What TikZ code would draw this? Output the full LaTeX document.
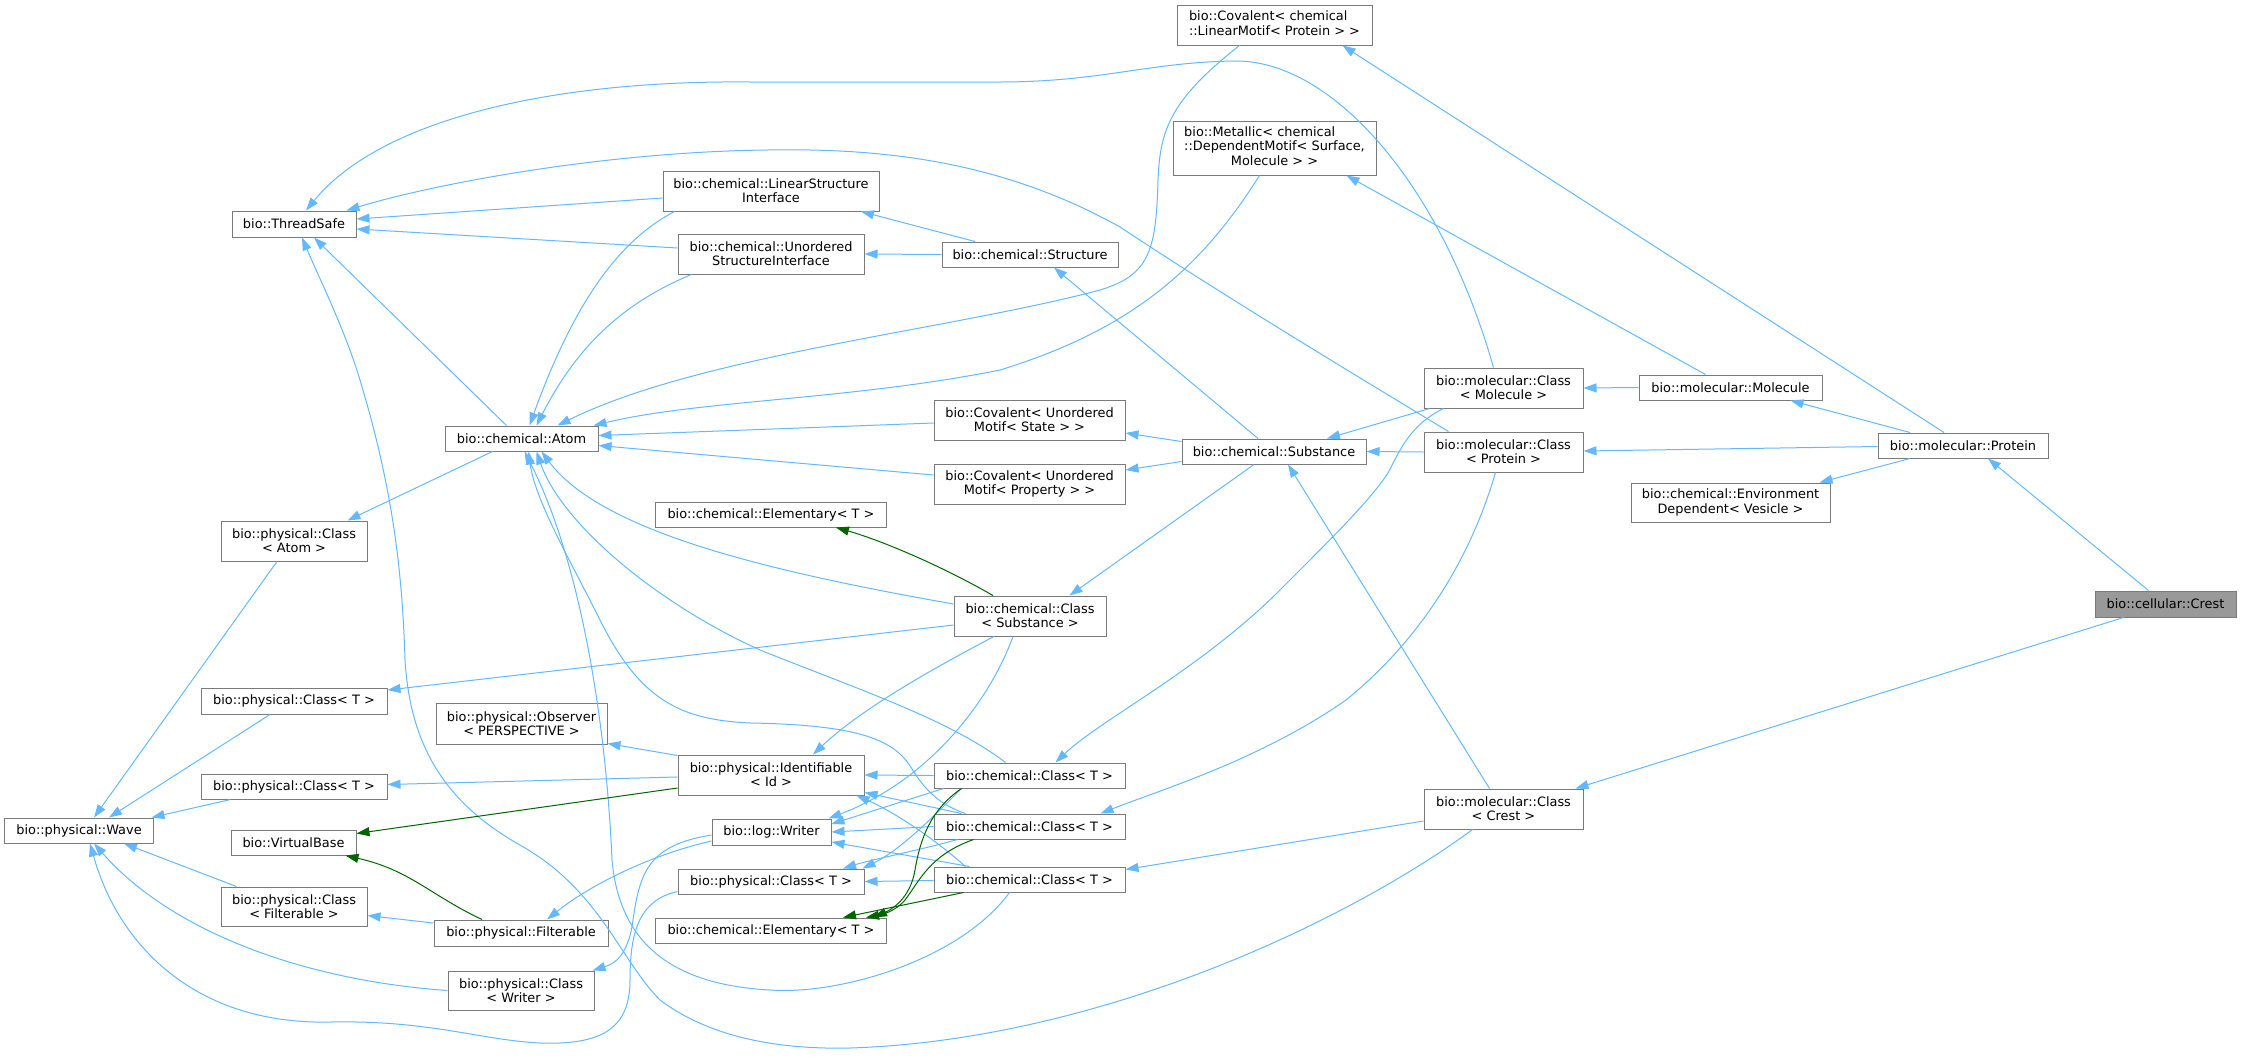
\documentclass[tikz,border=0pt]{standalone}
\usepackage{fontspec}
\setmainfont{DejaVu Sans}
\usetikzlibrary{arrows.meta}
\definecolor{edgeblue}{HTML}{63B8FF}
\definecolor{edgegreen}{HTML}{006400}
\definecolor{nodeborder}{HTML}{7A7A7A}
\definecolor{curfill}{HTML}{999999}
\tikzset{
  box/.style={draw=nodeborder,line width=1bp,fill=white,inner sep=0pt,align=center,font=\fontsize{12.9bp}{14.3bp}\selectfont},
  cur/.style={box,fill=curfill},
  inh/.style={draw=edgeblue,line width=1bp,-{Triangle[length=13bp,width=9bp]}},
  grn/.style={draw=edgegreen,line width=1bp,-{Triangle[length=13bp,width=9bp]}},
  wh/.style 2 args={minimum width=#1bp,minimum height=#2bp}}
\begin{document}
\begin{tikzpicture}[x=1bp,y=-1bp]
\useasboundingbox (0,0) rectangle (2241,1056);
% nodes
\node[box,wh={124}{26}] (ts) at (294,224) {bio::ThreadSafe};
\node[box,wh={216}{40}] (lsi) at (771,191) {bio::chemical::LinearStructure\\Interface};
\node[box,wh={186}{40}] (usi) at (771,254) {bio::chemical::Unordered\\StructureInterface};
\node[box,wh={176}{25}] (struct) at (1030,254.5) {bio::chemical::Structure};
\node[box,wh={195}{40}] (covlm) at (1274.5,25) {\begin{tabular}{@{}l@{}}bio::Covalent< chemical\\::LinearMotif< Protein > >\end{tabular}};
\node[box,wh={203}{54}] (met) at (1274.5,148) {\begin{tabular}{@{}l@{}}bio::Metallic< chemical\\::DependentMotif< Surface,\\\multicolumn{1}{@{}c@{}}{Molecule > >}\end{tabular}};
\node[box,wh={153}{25}] (atom) at (521.5,438.5) {bio::chemical::Atom};
\node[box,wh={146}{40}] (clatom) at (294,541) {bio::physical::Class\\< Atom >};
\node[box,wh={186}{26}] (pc1) at (294,701) {bio::physical::Class< T >};
\node[box,wh={186}{25}] (pc2) at (294,786.5) {bio::physical::Class< T >};
\node[box,wh={148}{25}] (wave) at (79,830.5) {bio::physical::Wave};
\node[box,wh={125}{25}] (vb) at (293.5,842.5) {bio::VirtualBase};
\node[box,wh={146}{39}] (clfilt) at (294,906.5) {bio::physical::Class\\< Filterable >};
\node[box,wh={171}{41}] (obs) at (521.5,723.5) {bio::physical::Observer\\< PERSPECTIVE >};
\node[box,wh={174}{26}] (filt) at (521,933) {bio::physical::Filterable};
\node[box,wh={146}{39}] (clwriter) at (521,990.5) {bio::physical::Class\\< Writer >};
\node[box,wh={186}{40}] (ident) at (771,775) {bio::physical::Identifiable\\< Id >};
\node[box,wh={119}{26}] (writer) at (771.5,832) {bio::log::Writer};
\node[box,wh={186}{25}] (pc3) at (771,881.5) {bio::physical::Class< T >};
\node[box,wh={231}{25}] (elem2) at (771,930.5) {bio::chemical::Elementary< T >};
\node[box,wh={191}{25}] (cc1) at (1029.5,775.5) {bio::chemical::Class< T >};
\node[box,wh={191}{25}] (cc2) at (1029.5,826.5) {bio::chemical::Class< T >};
\node[box,wh={191}{25}] (cc3) at (1029.5,879.5) {bio::chemical::Class< T >};
\node[box,wh={191}{40}] (covst) at (1029.5,420) {bio::Covalent< Unordered\\Motif< State > >};
\node[box,wh={191}{40}] (covpr) at (1029.5,484) {bio::Covalent< Unordered\\Motif< Property > >};
\node[box,wh={231}{25}] (elem1) at (771,514.5) {bio::chemical::Elementary< T >};
\node[box,wh={152}{40}] (csub) at (1030,616) {bio::chemical::Class\\< Substance >};
\node[box,wh={184}{25}] (subst) at (1274,451.5) {bio::chemical::Substance};
\node[box,wh={159}{40}] (mcmol) at (1503.5,388) {bio::molecular::Class\\< Molecule >};
\node[box,wh={159}{40}] (mcprot) at (1503.5,452) {bio::molecular::Class\\< Protein >};
\node[box,wh={183}{25}] (mol) at (1730.5,387.5) {bio::molecular::Molecule};
\node[box,wh={199}{39}] (envdep) at (1730.5,502.5) {bio::chemical::Environment\\Dependent< Vesicle >};
\node[box,wh={170}{25}] (prot) at (1963,445.5) {bio::molecular::Protein};
\node[cur,wh={141}{26}] (crest) at (2165.5,604) {bio::cellular::Crest};
\node[box,wh={159}{40}] (mccrest) at (1503.5,809) {bio::molecular::Class\\< Crest >};
% edges
\draw[inh] ([xshift=-10bp]mcmol.north) .. controls (1440,180) and (1330,60) .. (1235,61) .. controls (1150,62) and (1100,82) .. (1000,82) -- (750,82) .. controls (550,80) and (380,120) .. ([xshift=12bp]ts.north);
\draw[inh] ([xshift=-55bp]mcprot.north) .. controls (1380,390) and (1230,300) .. (1120,227) .. controls (1000,160) and (880,148) .. (767,150) .. controls (600,152) and (430,185) .. ([xshift=-10bp]ts.north east);
\draw[inh] ([yshift=-7bp]lsi.west) -- ([yshift=5bp]ts.east);
\draw[inh] ([yshift=6bp]usi.west) -- ([yshift=-5bp]ts.east);
\draw[inh] ([xshift=-15bp]atom.north) -- ([xshift=20bp]ts.south);
\draw[inh] ([xshift=-31bp]mccrest.south) .. controls (1350,920) and (1100,1040) .. (850,1048) .. controls (760,1050) and (700,1030) .. (660,1000) .. controls (620,960) and (600,890) .. (520,845) .. controls (440,800) and (410,740) .. (405,660) .. controls (402,560) and (390,480) .. (360,380) .. controls (345,330) and (320,280) .. ([xshift=8bp]ts.south);
\draw[inh] ([xshift=12bp]lsi.south west) .. controls (620,240) and (575,300) .. ([xshift=8bp]atom.north);
\draw[inh] ([xshift=14bp]usi.south west) .. controls (630,300) and (580,340) .. ([xshift=15bp]atom.north);
\draw[inh] ([xshift=-35bp]covlm.south) .. controls (1170,100) and (1160,130) .. (1158,180) .. controls (1156,250) and (1150,275) .. (1100,290) .. controls (950,330) and (700,355) .. ([xshift=36bp]atom.north);
\draw[inh] ([xshift=-15bp]met.south) .. controls (1200,270) and (1130,330) .. (1000,370) .. controls (850,400) and (700,400) .. ([xshift=-5bp]atom.north east);
\draw[inh] ([yshift=-3bp]covst.west) -- ([yshift=3bp]atom.east);
\draw[inh] ([yshift=9bp]covpr.west) -- ([yshift=-7bp]atom.east);
\draw[inh] ([yshift=12bp]csub.west) .. controls (760,570) and (600,530) .. ([xshift=20bp]atom.south);
\draw[inh] ([xshift=-24bp]cc1.north) .. controls (950,720) and (860,690) .. (760,650) .. controls (650,600) and (560,520) .. ([xshift=15bp]atom.south);
\draw[inh] ([xshift=-64bp]cc2.north) .. controls (940,805) and (925,790) .. (912,769) .. controls (895,740) and (860,725) .. (751,723) .. controls (680,720) and (640,700) .. (600,620) .. controls (570,560) and (535,500) .. ([xshift=7bp]atom.south);
\draw[inh] ([xshift=-20bp]cc3.south) .. controls (960,960) and (840,995) .. (770,990) .. controls (680,985) and (620,950) .. (612,860) .. controls (606,720) and (580,560) .. ([xshift=3bp]atom.south);
\draw[inh] ([xshift=-29bp]atom.south) -- ([xshift=-20bp]clatom.north east);
\draw[inh] ([xshift=-17bp]clatom.south) -- ([xshift=15bp]wave.north);
\draw[inh] ([xshift=-24bp]pc1.south) -- ([xshift=30bp]wave.north);
\draw[inh] ([xshift=30bp]pc2.south west) -- ([xshift=-2bp]wave.north east);
\draw[inh] ([xshift=16bp]clfilt.north west) -- ([xshift=45bp]wave.south);
\draw[inh] (clwriter.west) .. controls (300,980) and (170,930) .. ([xshift=15bp]wave.south);
\draw[inh] ([yshift=-10bp]pc3.west) .. controls (640,900) and (630,930) .. (630,980) .. controls (630,1030) and (600,1045) .. (540,1043) .. controls (480,1040) and (430,1020) .. (330,1022) .. controls (200,1025) and (120,950) .. ([xshift=11bp]wave.south);
\draw[inh] ([yshift=-9bp]csub.west) -- ([yshift=11bp]pc1.east);
\draw[inh] ([yshift=-2bp]ident.west) -- ([yshift=2bp]pc2.east);
\draw[inh] ([yshift=-1bp]ident.north west) -- ([yshift=1bp]obs.south east);
\draw[grn] ([yshift=-13bp]ident.west) -- ([yshift=9bp]vb.east);
\draw[grn] ([xshift=-39bp]filt.north) .. controls (430,895) and (410,870) .. ([xshift=52bp]vb.south);
\draw[inh] ([yshift=10bp]filt.west) -- ([yshift=-9bp]clfilt.east);
\draw[inh] ([yshift=-9bp]writer.west) .. controls (650,855) and (590,885) .. ([xshift=26bp]filt.north);
\draw[inh] ([yshift=-3bp]writer.west) .. controls (650,845) and (640,870) .. (633,920) .. controls (628,960) and (610,965) .. ([xshift=-2bp]clwriter.north east);
\draw[inh] ([xshift=-36bp]csub.south) .. controls (930,670) and (860,710) .. ([xshift=42bp]ident.north);
\draw[inh] ([xshift=-17bp]csub.south) .. controls (990,700) and (930,780) .. ([xshift=-3bp]writer.north east);
\draw[inh] (cc1.west) -- (ident.east);
\draw[inh] ([xshift=28bp]cc2.north west) -- ([yshift=3bp]ident.south east);
\draw[inh] ([xshift=32bp]cc3.north west) .. controls (930,835) and (890,810) .. ([xshift=-8bp]ident.south east);
\draw[inh] ([xshift=10bp]cc1.south west) -- ([yshift=8bp]writer.east);
\draw[inh] (cc2.west) -- (writer.east);
\draw[inh] ([xshift=36bp]cc3.north west) -- ([yshift=-10bp]writer.east);
\draw[inh] ([xshift=28bp]cc1.south west) .. controls (930,820) and (900,850) .. ([xshift=-2bp]pc3.north east);
\draw[inh] ([xshift=24bp]cc2.south west) .. controls (920,850) and (870,860) .. ([xshift=72bp]pc3.north);
\draw[inh] ([yshift=-1bp]cc3.west) -- (pc3.east);
\draw[inh] ([xshift=20bp]mcmol.south west) .. controls (1410,425) and (1400,450) .. (1388,473) .. controls (1370,500) and (1340,530) .. (1280,590) .. controls (1200,670) and (1100,720) .. ([xshift=-70bp]cc1.north east);
\draw[inh] ([xshift=-8bp]mcprot.south) .. controls (1470,560) and (1420,640) .. (1346,700) .. controls (1260,760) and (1160,790) .. ([xshift=-25bp]cc2.north east);
\draw[inh] ([yshift=-12bp]mccrest.west) -- ([yshift=10bp]cc3.east);
\draw[inh] ([xshift=-20bp]subst.south) -- ([xshift=-37bp]csub.north east);
\draw[inh] ([xshift=6bp]mcmol.south west) -- ([xshift=53bp]subst.north);
\draw[inh] (mcprot.west) -- (subst.east);
\draw[inh] ([xshift=-14bp]mccrest.north) -- ([xshift=14bp]subst.south);
\draw[inh] ([yshift=10bp]subst.west) -- ([yshift=-13bp]covst.east);
\draw[inh] ([yshift=-10bp]subst.west) -- ([yshift=14bp]covpr.east);
\draw[inh] ([xshift=-16bp]subst.north) -- ([xshift=24bp]struct.south);
\draw[inh] ([xshift=-55bp]struct.north) -- ([xshift=90bp]lsi.south);
\draw[inh] (struct.west) -- (usi.east);
\draw[inh] (mol.west) -- (mcmol.east);
\draw[inh] ([xshift=-25bp]mol.north) -- ([xshift=-30bp]met.south east);
\draw[inh] ([xshift=-53bp]prot.north) -- ([xshift=60bp]mol.south);
\draw[inh] ([yshift=-1bp]prot.west) -- ([yshift=1bp]mcprot.east);
\draw[inh] ([xshift=-53bp]prot.south) -- ([xshift=89bp]envdep.north);
\draw[inh] ([xshift=-19bp]prot.north) -- ([xshift=-30bp]covlm.south east);
\draw[inh] ([xshift=-17bp]crest.north) -- ([xshift=25bp]prot.south);
\draw[inh] ([xshift=-42bp]crest.south) -- ([xshift=-8bp]mccrest.north east);
\draw[grn] ([xshift=-37bp]csub.north) .. controls (940,565) and (880,540) .. ([xshift=65bp]elem1.south);
\draw[grn] ([xshift=28bp]cc1.south west) .. controls (930,810) and (920,840) .. (915,870) .. controls (910,900) and (890,910) .. ([xshift=103bp]elem2.north);
\draw[grn] ([xshift=40bp]cc2.south west) .. controls (930,855) and (920,880) .. (905,900) .. controls (895,912) and (880,915) .. ([xshift=95bp]elem2.north);
\draw[grn] ([xshift=30bp]cc3.south west) -- ([xshift=72bp]elem2.north);
\end{tikzpicture}
\end{document}
